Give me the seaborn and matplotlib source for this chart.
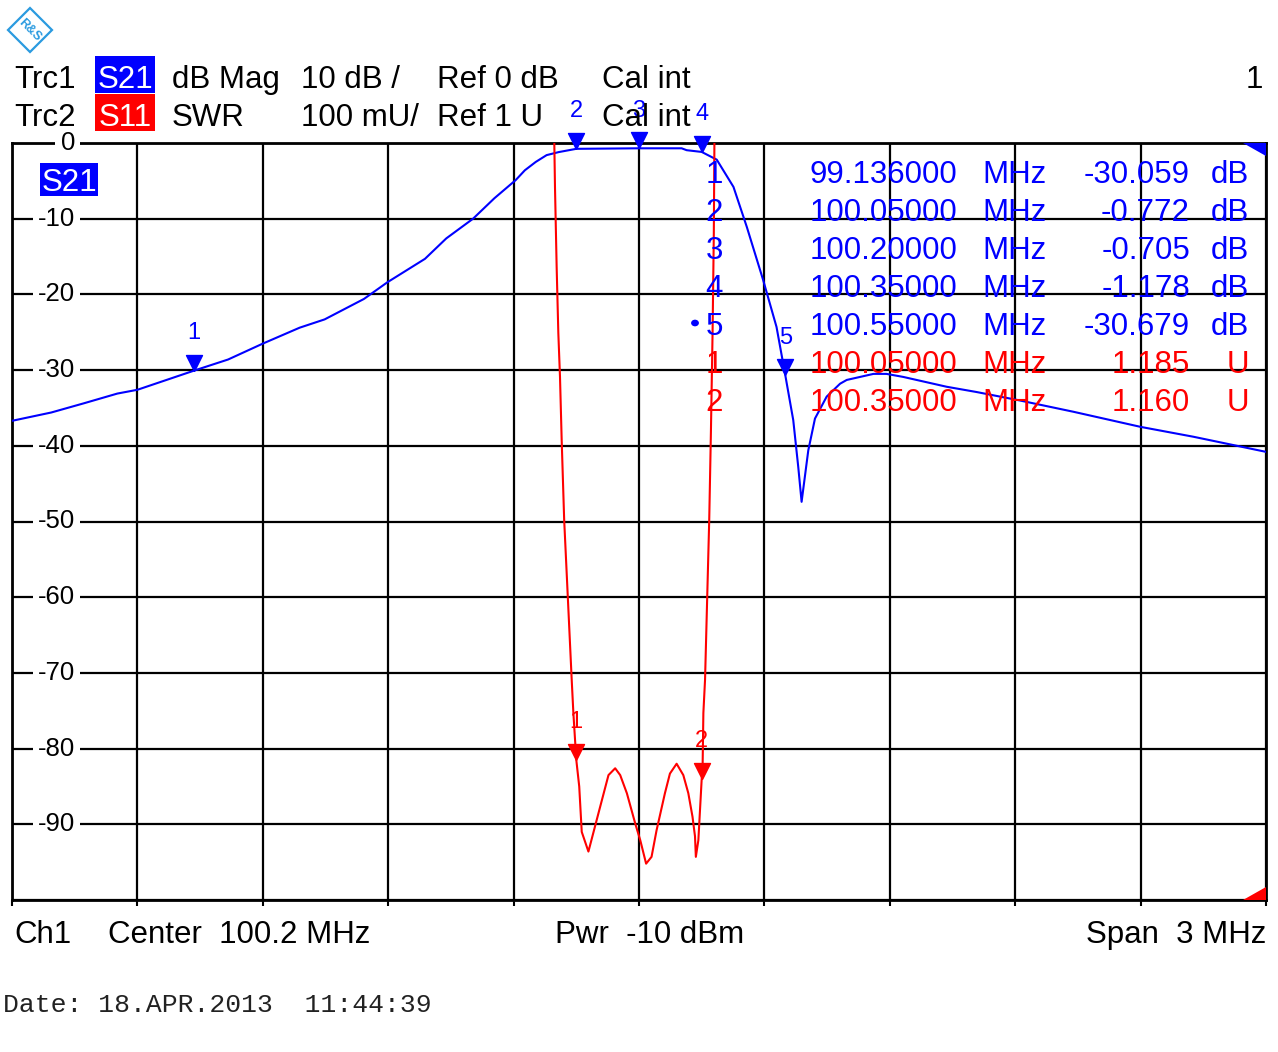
import numpy as np
import pandas as pd
import matplotlib
matplotlib.use("Agg")
import matplotlib.pyplot as plt
import matplotlib.transforms as mtransforms
from matplotlib.patches import Rectangle, Polygon
import seaborn as sns

# ---------------- data ----------------
s21_freq = [98.700, 98.794, 98.871, 98.952, 99.000, 99.136, 99.217, 99.300, 99.388,
            99.448, 99.542, 99.598, 99.688, 99.739, 99.803, 99.854, 99.905, 99.927,
            99.953, 99.979, 100.008, 100.050, 100.200, 100.302, 100.314, 100.350,
            100.386, 100.426, 100.458, 100.497, 100.529, 100.550, 100.569, 100.581,
            100.589, 100.605, 100.621, 100.649, 100.681, 100.697, 100.761, 100.792,
            100.832, 100.936, 101.008, 101.110, 101.239, 101.400, 101.526, 101.700]
s21_db = [-36.7, -35.6, -34.4, -33.1, -32.6, -30.06, -28.6, -26.5, -24.4,
          -23.3, -20.6, -18.4, -15.3, -12.6, -10.0, -7.3, -4.9, -3.6,
          -2.5, -1.6, -1.2, -0.77, -0.70, -0.70, -0.95, -1.18,
          -2.2, -5.8, -11.1, -18.1, -24.3, -30.68, -36.6, -42.8,
          -47.4, -40.6, -36.4, -33.5, -31.8, -31.3, -30.5, -30.5,
          -30.9, -32.2, -32.9, -34.0, -35.5, -37.5, -38.8, -40.8]

s11_freq = [99.996, 99.999, 100.003, 100.007, 100.011, 100.015, 100.021, 100.039,
            100.043, 100.050, 100.057, 100.063, 100.079, 100.107, 100.127, 100.143,
            100.155, 100.171, 100.191, 100.203, 100.217, 100.230, 100.242, 100.262,
            100.274, 100.290, 100.306, 100.318, 100.328, 100.334, 100.336, 100.342,
            100.350, 100.352, 100.354, 100.358, 100.368, 100.372, 100.376, 100.379,
            100.381]
s11_swr = [2.05, 1.942, 1.836, 1.749, 1.691, 1.608, 1.502, 1.291,
           1.247, 1.185, 1.150, 1.090, 1.064, 1.123, 1.165, 1.174,
           1.165, 1.141, 1.101, 1.079, 1.048, 1.057, 1.092, 1.141,
           1.167, 1.180, 1.165, 1.141, 1.110, 1.084, 1.057, 1.079,
           1.160, 1.170, 1.247, 1.291, 1.502, 1.617, 1.749, 1.881,
           2.05]

s21_marker_id = ["1", "2", "3", "4", "5"]
s21_marker_freq = [99.136, 100.05, 100.20, 100.35, 100.55]
s21_marker_val = [-30.059, -0.772, -0.705, -1.178, -30.679]
s11_marker_id = ["1", "2"]
s11_marker_freq = [100.05, 100.35]
s11_marker_val = [1.185, 1.160]

table_freq_text = ["99.136000", "100.05000", "100.20000", "100.35000", "100.55000",
                   "100.05000", "100.35000"]
table_val_text = ["-30.059", "-0.772", "-0.705", "-1.178", "-30.679", "1.185", "1.160"]
table_unit = ["dB", "dB", "dB", "dB", "dB", "U", "U"]

y_tick_values = [0, -10, -20, -30, -40, -50, -60, -70, -80, -90]
y_tick_labels = ["0", "-10", "-20", "-30", "-40", "-50", "-60", "-70", "-80", "-90"]

BLUE = "#0000ff"
RED = "#ff0000"

# ---------------- figure ----------------
sns.set_style("white")
plt.rcParams['font.family'] = ['Liberation Sans', 'DejaVu Sans']
plt.rcParams['text.color'] = 'black'

W, H = 1278, 1052
def fx(x):
    return x / W
def fy(y):
    return 1 - y / H

fig = plt.figure(figsize=(W / 100, H / 100), dpi=100)
fig.patch.set_facecolor("white")
ax = fig.add_axes([fx(12), fy(900), 1254 / W, 757 / H])

# S21 trace
sns.lineplot(x=s21_freq, y=s21_db, ax=ax, color=BLUE, linewidth=1.5,
             sort=False, estimator=None, zorder=3)
ax.set_xlim(98.7, 101.7)
ax.set_ylim(-100, 0)
ax.set_xticks(np.linspace(98.7, 101.7, 11))
ax.set_yticks(np.arange(-100, 1, 10))
ax.set_xticklabels([])
ax.set_yticklabels([])
ax.set_xlabel("")
ax.set_ylabel("")
ax.set_axisbelow(True)
ax.grid(True, color="black", linewidth=1.6)
ax.tick_params(axis="x", direction="out", length=4, width=1.5, bottom=True, color="black")
ax.tick_params(axis="y", length=0, left=False)
for sp in ax.spines.values():
    sp.set_color("black")
    sp.set_linewidth(2.0)

# S11 trace (SWR, 100 mU/div, Ref 1 U at bottom)
ax2 = ax.twinx()
sns.lineplot(x=s11_freq, y=s11_swr, ax=ax2, color=RED, linewidth=1.5,
             sort=False, estimator=None)
ax2.set_ylim(1.0, 2.0)
ax2.set_xlim(98.7, 101.7)
ax2.set_yticks([])
ax2.set_ylabel("")
for sp in ax2.spines.values():
    sp.set_visible(False)

# marker triangles (tip at data point)
tri = [(0, 0), (-1, 2), (1, 2), (0, 0)]
ax.plot(s21_marker_freq, s21_marker_val, linestyle="none", marker=tri,
        markersize=23, color=BLUE, zorder=5, clip_on=False)
for mid, f, v in zip(s21_marker_id, s21_marker_freq, s21_marker_val):
    ax.annotate(mid, xy=(f, v), xytext=(0, 27), textcoords="offset points",
                ha="center", va="center", fontsize=17, color=BLUE,
                annotation_clip=False, zorder=6)
ax2.plot(s11_marker_freq, s11_marker_val, linestyle="none", marker=tri,
         markersize=23, color=RED, zorder=5, clip_on=False)
for mid, f, v in zip(s11_marker_id, s11_marker_freq, s11_marker_val):
    ax2.annotate(mid, xy=(f, v), xytext=(0, 27), textcoords="offset points",
                 ha="center", va="center", fontsize=17, color=RED,
                 annotation_clip=False, zorder=6)

# y labels inside the grid
ytrans = mtransforms.blended_transform_factory(ax.transAxes, ax.transData)
for v, lab in zip(y_tick_values, y_tick_labels):
    ax.text(63 / 1254, v, lab, transform=ytrans, ha="right", va="center",
            fontsize=18.5, color="black", zorder=4,
            bbox=dict(boxstyle="square,pad=0.2", fc="white", ec="none"))

# ---------------- header ----------------
FS = 22.5
def ftext(x, y, s, **kw):
    kw.setdefault("fontsize", FS)
    kw.setdefault("va", "baseline")
    kw.setdefault("color", "black")
    return fig.text(fx(x), fy(y), s, **kw)

fig.add_artist(Rectangle((fx(95), fy(93)), 60 / W, 37 / H, transform=fig.transFigure,
                         facecolor=BLUE, edgecolor="none"))
fig.add_artist(Rectangle((fx(95), fy(131)), 60 / W, 37 / H, transform=fig.transFigure,
                         facecolor=RED, edgecolor="none"))
ftext(14, 88, "Trc1")
ftext(125, 88, "S21", ha="center", color="white")
ftext(172, 88, "dB Mag")
ftext(301, 88, "10 dB /")
ftext(437, 88, "Ref 0 dB")
ftext(602, 88, "Cal int")
ftext(1263, 88, "1", ha="right")
ftext(14, 126, "Trc2")
ftext(125, 126, "S11", ha="center", color="white")
ftext(172, 126, "SWR")
ftext(301, 126, "100 mU/")
ftext(437, 126, "Ref 1 U")
ftext(602, 126, "Cal int")

# S21 tag inside plot
fig.add_artist(Rectangle((fx(40), fy(196)), 58 / W, 33 / H, transform=fig.transFigure,
                         facecolor=BLUE, edgecolor="none", zorder=4))
ftext(69, 191, "S21", ha="center", color="white", zorder=5)

# marker table
row_base = [183, 221, 259, 297, 335, 373, 411]
ids = s21_marker_id + s11_marker_id
for i, yb in enumerate(row_base):
    c = BLUE if i < 5 else RED
    ftext(714, yb, ids[i], ha="center", color=c, zorder=6)
    ftext(957, yb, table_freq_text[i], ha="right", color=c, zorder=6)
    ftext(982, yb, "MHz", ha="left", color=c, zorder=6)
    ftext(1190, yb, table_val_text[i], ha="right", color=c, zorder=6)
    ftext(1249, yb, table_unit[i], ha="right", color=c, zorder=6)
fig.add_artist(plt.Circle((fx(695), fy(323)), 3.2 / W, transform=fig.transFigure,
                          color=BLUE, zorder=6))

# corner triangles
fig.add_artist(Polygon([(fx(1243), fy(143)), (fx(1266), fy(143)), (fx(1266), fy(156))],
                       closed=True, transform=fig.transFigure, facecolor=BLUE,
                       edgecolor="none", zorder=6))
fig.add_artist(Polygon([(fx(1243), fy(900)), (fx(1266), fy(900)), (fx(1266), fy(887))],
                       closed=True, transform=fig.transFigure, facecolor=RED,
                       edgecolor="none", zorder=6))

# footer
ftext(14, 943, "Ch1")
ftext(108, 943, "Center  100.2 MHz")
ftext(555, 943, "Pwr  -10 dBm")
ftext(1266, 943, "Span  3 MHz", ha="right")
fig.text(fx(3), fy(1012), "Date: 18.APR.2013  11:44:39", family=["Liberation Mono"],
         fontsize=19, color="#222222", va="baseline")

# logo
LOGO = "#2b9be0"
fig.add_artist(Polygon([(fx(30), fy(8)), (fx(52), fy(30)), (fx(30), fy(52)), (fx(8), fy(30))],
                       closed=True, transform=fig.transFigure, facecolor="none",
                       edgecolor=LOGO, linewidth=1.6))
fig.text(fx(30), fy(30), "R&S", fontsize=9, fontweight="bold", color=LOGO,
         ha="center", va="center", rotation=-45)

fig.savefig("out.png", dpi=100, facecolor="white")
